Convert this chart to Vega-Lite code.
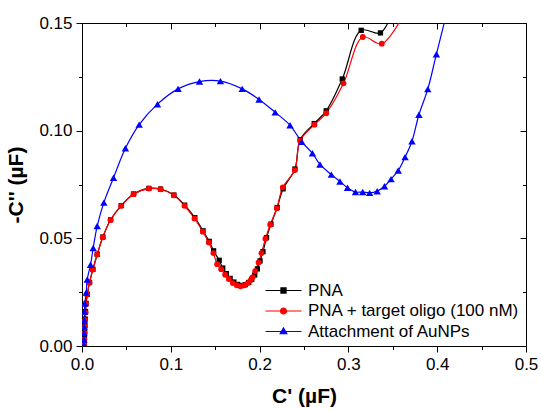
{
  "$schema": "https://vega.github.io/schema/vega-lite/v6.json",
  "autosize": "none",
  "padding": {"left": 82, "top": 23, "right": 15, "bottom": 63},
  "width": 444,
  "height": 323,
  "background": "white",
  "config": {
    "font": "Liberation Sans",
    "view": {"stroke": null},
    "axis": {"grid": false, "domainColor": "black", "tickColor": "black", "labelColor": "black", "titleColor": "black", "labelFont": "Liberation Sans", "titleFont": "Liberation Sans", "labelFontSize": 17, "titleFontSize": 21, "titleFontWeight": "bold", "labelFlush": false, "labelOverlap": false, "domainWidth": 1, "tickWidth": 1}
  },
  "datasets": {
    "pts": [
      {"s": "PNA", "i": 1, "x": 0.0025, "y": 0.0005},
      {"s": "PNA", "i": 2, "x": 0.0027, "y": 0.0035},
      {"s": "PNA", "i": 3, "x": 0.003, "y": 0.0065},
      {"s": "PNA", "i": 4, "x": 0.0033, "y": 0.0095},
      {"s": "PNA", "i": 5, "x": 0.0036, "y": 0.0125},
      {"s": "PNA", "i": 6, "x": 0.004, "y": 0.016},
      {"s": "PNA", "i": 7, "x": 0.0046, "y": 0.0198},
      {"s": "PNA", "i": 8, "x": 0.006, "y": 0.024},
      {"s": "PNA", "i": 9, "x": 0.0085, "y": 0.0295},
      {"s": "PNA", "i": 10, "x": 0.0123, "y": 0.0356},
      {"s": "PNA", "i": 11, "x": 0.0172, "y": 0.0426},
      {"s": "PNA", "i": 12, "x": 0.0235, "y": 0.0506},
      {"s": "PNA", "i": 13, "x": 0.0322, "y": 0.0586},
      {"s": "PNA", "i": 14, "x": 0.0442, "y": 0.0652},
      {"s": "PNA", "i": 15, "x": 0.0581, "y": 0.0706},
      {"s": "PNA", "i": 16, "x": 0.0753, "y": 0.0732},
      {"s": "PNA", "i": 17, "x": 0.0885, "y": 0.0729},
      {"s": "PNA", "i": 18, "x": 0.1035, "y": 0.0701},
      {"s": "PNA", "i": 19, "x": 0.1156, "y": 0.0654},
      {"s": "PNA", "i": 20, "x": 0.127, "y": 0.0596},
      {"s": "PNA", "i": 21, "x": 0.1363, "y": 0.0535},
      {"s": "PNA", "i": 22, "x": 0.1432, "y": 0.0486},
      {"s": "PNA", "i": 23, "x": 0.1482, "y": 0.0442},
      {"s": "PNA", "i": 24, "x": 0.1545, "y": 0.0398},
      {"s": "PNA", "i": 25, "x": 0.1585, "y": 0.0362},
      {"s": "PNA", "i": 26, "x": 0.1625, "y": 0.0336},
      {"s": "PNA", "i": 27, "x": 0.1668, "y": 0.0314},
      {"s": "PNA", "i": 28, "x": 0.171, "y": 0.0297},
      {"s": "PNA", "i": 29, "x": 0.1752, "y": 0.0286},
      {"s": "PNA", "i": 30, "x": 0.1795, "y": 0.0281},
      {"s": "PNA", "i": 31, "x": 0.1838, "y": 0.0285},
      {"s": "PNA", "i": 32, "x": 0.1878, "y": 0.0295},
      {"s": "PNA", "i": 33, "x": 0.1912, "y": 0.031},
      {"s": "PNA", "i": 34, "x": 0.1945, "y": 0.033},
      {"s": "PNA", "i": 35, "x": 0.1975, "y": 0.0358},
      {"s": "PNA", "i": 36, "x": 0.2005, "y": 0.0395},
      {"s": "PNA", "i": 37, "x": 0.2038, "y": 0.0438},
      {"s": "PNA", "i": 38, "x": 0.2078, "y": 0.0503},
      {"s": "PNA", "i": 39, "x": 0.2128, "y": 0.0566},
      {"s": "PNA", "i": 40, "x": 0.2198, "y": 0.0643},
      {"s": "PNA", "i": 41, "x": 0.2265, "y": 0.073},
      {"s": "PNA", "i": 42, "x": 0.2398, "y": 0.0822},
      {"s": "PNA", "i": 43, "x": 0.2457, "y": 0.0958},
      {"s": "PNA", "i": 44, "x": 0.2615, "y": 0.1033},
      {"s": "PNA", "i": 45, "x": 0.275, "y": 0.1092},
      {"s": "PNA", "i": 46, "x": 0.2931, "y": 0.124},
      {"s": "PNA", "i": 47, "x": 0.3144, "y": 0.1466},
      {"s": "PNA", "i": 48, "x": 0.3361, "y": 0.1454},
      {"s": "PNA", "i": 49, "x": 0.354, "y": 0.16},
      {"s": "PNA + target oligo (100 nM)", "i": 1, "x": 0.0025, "y": 0.0005},
      {"s": "PNA + target oligo (100 nM)", "i": 2, "x": 0.0027, "y": 0.003},
      {"s": "PNA + target oligo (100 nM)", "i": 3, "x": 0.003, "y": 0.006},
      {"s": "PNA + target oligo (100 nM)", "i": 4, "x": 0.0032, "y": 0.009},
      {"s": "PNA + target oligo (100 nM)", "i": 5, "x": 0.0035, "y": 0.012},
      {"s": "PNA + target oligo (100 nM)", "i": 6, "x": 0.004, "y": 0.0155},
      {"s": "PNA + target oligo (100 nM)", "i": 7, "x": 0.0045, "y": 0.0195},
      {"s": "PNA + target oligo (100 nM)", "i": 8, "x": 0.0059, "y": 0.0239},
      {"s": "PNA + target oligo (100 nM)", "i": 9, "x": 0.0084, "y": 0.0294},
      {"s": "PNA + target oligo (100 nM)", "i": 10, "x": 0.0122, "y": 0.0355},
      {"s": "PNA + target oligo (100 nM)", "i": 11, "x": 0.0171, "y": 0.0425},
      {"s": "PNA + target oligo (100 nM)", "i": 12, "x": 0.0234, "y": 0.0505},
      {"s": "PNA + target oligo (100 nM)", "i": 13, "x": 0.0321, "y": 0.0585},
      {"s": "PNA + target oligo (100 nM)", "i": 14, "x": 0.0441, "y": 0.0651},
      {"s": "PNA + target oligo (100 nM)", "i": 15, "x": 0.058, "y": 0.0705},
      {"s": "PNA + target oligo (100 nM)", "i": 16, "x": 0.0752, "y": 0.0731},
      {"s": "PNA + target oligo (100 nM)", "i": 17, "x": 0.0884, "y": 0.0728},
      {"s": "PNA + target oligo (100 nM)", "i": 18, "x": 0.1034, "y": 0.07},
      {"s": "PNA + target oligo (100 nM)", "i": 19, "x": 0.1154, "y": 0.0651},
      {"s": "PNA + target oligo (100 nM)", "i": 20, "x": 0.1267, "y": 0.0592},
      {"s": "PNA + target oligo (100 nM)", "i": 21, "x": 0.136, "y": 0.0531},
      {"s": "PNA + target oligo (100 nM)", "i": 22, "x": 0.1428, "y": 0.0481},
      {"s": "PNA + target oligo (100 nM)", "i": 23, "x": 0.148, "y": 0.0431},
      {"s": "PNA + target oligo (100 nM)", "i": 24, "x": 0.1522, "y": 0.038},
      {"s": "PNA + target oligo (100 nM)", "i": 25, "x": 0.1567, "y": 0.0357},
      {"s": "PNA + target oligo (100 nM)", "i": 26, "x": 0.1612, "y": 0.0331},
      {"s": "PNA + target oligo (100 nM)", "i": 27, "x": 0.1653, "y": 0.0311},
      {"s": "PNA + target oligo (100 nM)", "i": 28, "x": 0.1698, "y": 0.0292},
      {"s": "PNA + target oligo (100 nM)", "i": 29, "x": 0.1743, "y": 0.0282},
      {"s": "PNA + target oligo (100 nM)", "i": 30, "x": 0.1785, "y": 0.0277},
      {"s": "PNA + target oligo (100 nM)", "i": 31, "x": 0.183, "y": 0.0282},
      {"s": "PNA + target oligo (100 nM)", "i": 32, "x": 0.1867, "y": 0.0292},
      {"s": "PNA + target oligo (100 nM)", "i": 33, "x": 0.1898, "y": 0.0305},
      {"s": "PNA + target oligo (100 nM)", "i": 34, "x": 0.1923, "y": 0.032},
      {"s": "PNA + target oligo (100 nM)", "i": 35, "x": 0.195, "y": 0.0348},
      {"s": "PNA + target oligo (100 nM)", "i": 36, "x": 0.1988, "y": 0.0388},
      {"s": "PNA + target oligo (100 nM)", "i": 37, "x": 0.2021, "y": 0.0431},
      {"s": "PNA + target oligo (100 nM)", "i": 38, "x": 0.2066, "y": 0.0498},
      {"s": "PNA + target oligo (100 nM)", "i": 39, "x": 0.2119, "y": 0.0563},
      {"s": "PNA + target oligo (100 nM)", "i": 40, "x": 0.2194, "y": 0.064},
      {"s": "PNA + target oligo (100 nM)", "i": 41, "x": 0.2261, "y": 0.0737},
      {"s": "PNA + target oligo (100 nM)", "i": 42, "x": 0.2396, "y": 0.0817},
      {"s": "PNA + target oligo (100 nM)", "i": 43, "x": 0.2457, "y": 0.0954},
      {"s": "PNA + target oligo (100 nM)", "i": 44, "x": 0.2618, "y": 0.1028},
      {"s": "PNA + target oligo (100 nM)", "i": 45, "x": 0.275, "y": 0.1081},
      {"s": "PNA + target oligo (100 nM)", "i": 46, "x": 0.2945, "y": 0.122},
      {"s": "PNA + target oligo (100 nM)", "i": 47, "x": 0.3162, "y": 0.1435},
      {"s": "PNA + target oligo (100 nM)", "i": 48, "x": 0.3376, "y": 0.1404},
      {"s": "PNA + target oligo (100 nM)", "i": 49, "x": 0.37, "y": 0.16},
      {"s": "Attachment of AuNPs", "i": 1, "x": 0.0022, "y": 0.0005},
      {"s": "Attachment of AuNPs", "i": 2, "x": 0.0023, "y": 0.003},
      {"s": "Attachment of AuNPs", "i": 3, "x": 0.0024, "y": 0.006},
      {"s": "Attachment of AuNPs", "i": 4, "x": 0.0025, "y": 0.009},
      {"s": "Attachment of AuNPs", "i": 5, "x": 0.0026, "y": 0.012},
      {"s": "Attachment of AuNPs", "i": 6, "x": 0.0028, "y": 0.016},
      {"s": "Attachment of AuNPs", "i": 7, "x": 0.0032, "y": 0.0197},
      {"s": "Attachment of AuNPs", "i": 8, "x": 0.0047, "y": 0.0248},
      {"s": "Attachment of AuNPs", "i": 9, "x": 0.0059, "y": 0.0309},
      {"s": "Attachment of AuNPs", "i": 10, "x": 0.0096, "y": 0.0377},
      {"s": "Attachment of AuNPs", "i": 11, "x": 0.0126, "y": 0.0455},
      {"s": "Attachment of AuNPs", "i": 12, "x": 0.0171, "y": 0.0557},
      {"s": "Attachment of AuNPs", "i": 13, "x": 0.0246, "y": 0.0666},
      {"s": "Attachment of AuNPs", "i": 14, "x": 0.0355, "y": 0.0781},
      {"s": "Attachment of AuNPs", "i": 15, "x": 0.0489, "y": 0.0918},
      {"s": "Attachment of AuNPs", "i": 16, "x": 0.0644, "y": 0.1028},
      {"s": "Attachment of AuNPs", "i": 17, "x": 0.085, "y": 0.1123},
      {"s": "Attachment of AuNPs", "i": 18, "x": 0.1082, "y": 0.1194},
      {"s": "Attachment of AuNPs", "i": 19, "x": 0.1323, "y": 0.1228},
      {"s": "Attachment of AuNPs", "i": 20, "x": 0.1559, "y": 0.123},
      {"s": "Attachment of AuNPs", "i": 21, "x": 0.1804, "y": 0.1194},
      {"s": "Attachment of AuNPs", "i": 22, "x": 0.1994, "y": 0.1145},
      {"s": "Attachment of AuNPs", "i": 23, "x": 0.2176, "y": 0.1085},
      {"s": "Attachment of AuNPs", "i": 24, "x": 0.2343, "y": 0.1025},
      {"s": "Attachment of AuNPs", "i": 25, "x": 0.2475, "y": 0.0948},
      {"s": "Attachment of AuNPs", "i": 26, "x": 0.2595, "y": 0.0895},
      {"s": "Attachment of AuNPs", "i": 27, "x": 0.268, "y": 0.0843},
      {"s": "Attachment of AuNPs", "i": 28, "x": 0.2808, "y": 0.0796},
      {"s": "Attachment of AuNPs", "i": 29, "x": 0.2905, "y": 0.0764},
      {"s": "Attachment of AuNPs", "i": 30, "x": 0.299, "y": 0.0735},
      {"s": "Attachment of AuNPs", "i": 31, "x": 0.308, "y": 0.0715},
      {"s": "Attachment of AuNPs", "i": 32, "x": 0.3161, "y": 0.0715},
      {"s": "Attachment of AuNPs", "i": 33, "x": 0.3239, "y": 0.0711},
      {"s": "Attachment of AuNPs", "i": 34, "x": 0.3324, "y": 0.0719},
      {"s": "Attachment of AuNPs", "i": 35, "x": 0.3406, "y": 0.0742},
      {"s": "Attachment of AuNPs", "i": 36, "x": 0.348, "y": 0.0775},
      {"s": "Attachment of AuNPs", "i": 37, "x": 0.3561, "y": 0.0815},
      {"s": "Attachment of AuNPs", "i": 38, "x": 0.3638, "y": 0.0877},
      {"s": "Attachment of AuNPs", "i": 39, "x": 0.3716, "y": 0.0951},
      {"s": "Attachment of AuNPs", "i": 40, "x": 0.3794, "y": 0.1074},
      {"s": "Attachment of AuNPs", "i": 41, "x": 0.3894, "y": 0.1193},
      {"s": "Attachment of AuNPs", "i": 42, "x": 0.3991, "y": 0.1355},
      {"s": "Attachment of AuNPs", "i": 43, "x": 0.414, "y": 0.16}
    ]
  },
  "data": {"name": "pts"},
  "resolve": {"axis": {"x": "independent", "y": "independent"}},
  "layer": [
    {
      "mark": {"type": "line", "interpolate": "catmull-rom", "strokeWidth": 1.2, "clip": true},
      "encoding": {
        "x": {"field": "x", "type": "quantitative", "scale": {"domain": [0, 0.5], "nice": false, "zero": false},
          "axis": {"orient": "bottom", "title": "C' (µF)", "values": [0, 0.05, 0.1, 0.15, 0.2, 0.25, 0.3, 0.35, 0.4, 0.45, 0.5],
            "labelExpr": "abs(datum.value*10 - round(datum.value*10)) > 0.01 ? '' : format(datum.value, '.1f')",
            "tickSize": {"condition": {"test": "abs(datum.value*10 - round(datum.value*10)) > 0.01", "value": 3.5}, "value": 6},
            "labelPadding": 4, "titlePadding": 13}},
        "y": {"field": "y", "type": "quantitative", "scale": {"domain": [0, 0.15], "nice": false, "zero": false},
          "axis": {"orient": "left", "title": "-C'' (µF)", "values": [0, 0.025, 0.05, 0.075, 0.1, 0.125, 0.15],
            "labelExpr": "abs(datum.value*20 - round(datum.value*20)) > 0.01 ? '' : format(datum.value, '.2f')",
            "tickSize": {"condition": {"test": "abs(datum.value*20 - round(datum.value*20)) > 0.01", "value": 3.5}, "value": 6},
            "labelPadding": 4, "titlePadding": 12}},
        "color": {"field": "s", "type": "nominal", "scale": {"domain": ["PNA", "PNA + target oligo (100 nM)", "Attachment of AuNPs"], "range": ["#000000", "#FF0000", "#0000FF"]},
          "legend": {"orient": "bottom-right", "title": null, "offset": 6, "padding": 0, "labelFontSize": 17, "labelFont": "Liberation Sans", "labelColor": "black", "labelLimit": 400, "symbolSize": 36, "labelOffset": 16, "rowPadding": 2.5, "symbolStrokeWidth": 1.2,
            "encode": {"symbols": {"update": {
              "shape": {"signal": "datum.value === 'PNA' ? 'M-6,0H6M-0.85,-0.85H0.85V0.85H-0.85Z' : datum.value === 'Attachment of AuNPs' ? 'M-6,0H6M0,-1.15L1.1,0.75H-1.1Z' : 'M-6,0H6M1,0A1,1,0,1,1,-1,0A1,1,0,1,1,1,0Z'"},
              "stroke": {"signal": "datum.value === 'PNA' ? '#000000' : datum.value === 'Attachment of AuNPs' ? '#0000FF' : '#FF0000'"},
              "fill": {"signal": "datum.value === 'PNA' ? '#000000' : datum.value === 'Attachment of AuNPs' ? '#0000FF' : '#FF0000'"}
            }}}}},
        "order": {"field": "i", "type": "quantitative"}
      }
    },
    {
      "transform": [{"filter": "datum.s === 'PNA'"}],
      "mark": {"type": "point", "shape": "square", "size": 28, "filled": true, "opacity": 1, "clip": true},
      "encoding": {
        "x": {"field": "x", "type": "quantitative",
          "axis": {"orient": "top", "title": null, "labels": false, "values": [0, 0.05, 0.1, 0.15, 0.2, 0.25, 0.3, 0.35, 0.4, 0.45, 0.5],
            "tickSize": {"condition": {"test": "abs(datum.value*10 - round(datum.value*10)) > 0.01", "value": -3.5}, "value": -6}}},
        "y": {"field": "y", "type": "quantitative",
          "axis": {"orient": "right", "title": null, "labels": false, "values": [0, 0.025, 0.05, 0.075, 0.1, 0.125, 0.15],
            "tickSize": {"condition": {"test": "abs(datum.value*20 - round(datum.value*20)) > 0.01", "value": -3.5}, "value": -6}}},
        "color": {"field": "s", "type": "nominal"}
      }
    },
    {
      "transform": [{"filter": "datum.s === 'PNA + target oligo (100 nM)'"}],
      "mark": {"type": "point", "shape": "circle", "size": 34, "filled": true, "opacity": 1, "clip": true},
      "encoding": {
        "x": {"field": "x", "type": "quantitative", "axis": null},
        "y": {"field": "y", "type": "quantitative", "axis": null},
        "color": {"field": "s", "type": "nominal"}
      }
    },
    {
      "transform": [{"filter": "datum.s === 'Attachment of AuNPs'"}],
      "mark": {"type": "point", "shape": "triangle-up", "size": 55, "filled": true, "opacity": 1, "clip": true},
      "encoding": {
        "x": {"field": "x", "type": "quantitative", "axis": null},
        "y": {"field": "y", "type": "quantitative", "axis": null},
        "color": {"field": "s", "type": "nominal"}
      }
    }
  ]
}
